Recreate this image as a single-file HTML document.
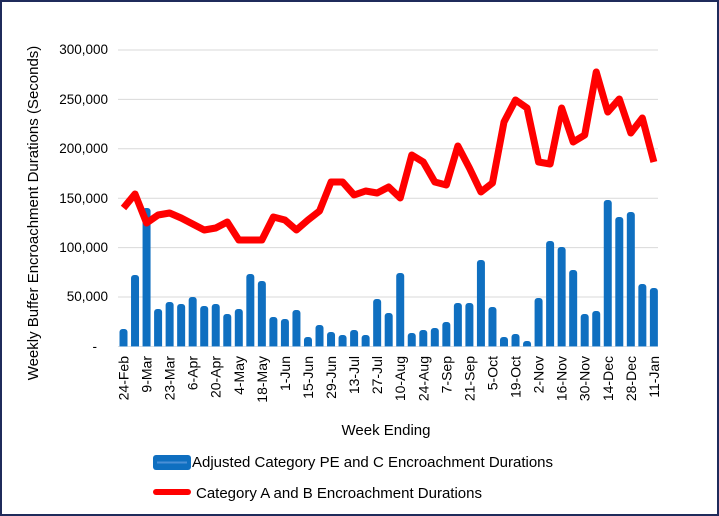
<!DOCTYPE html>
<html><head><meta charset="utf-8"><style>
html,body{margin:0;padding:0;background:#fff}
svg{display:block;font-family:"Liberation Sans",Arial,sans-serif}
</style></head><body>
<svg width="719" height="516" viewBox="0 0 719 516" xmlns="http://www.w3.org/2000/svg">
<rect x="1" y="1" width="717" height="514" fill="#fff" stroke="#1f2b5b" stroke-width="2"/>
<g stroke="#d9d9d9" stroke-width="1">
<line x1="118" x2="658" y1="50" y2="50"/><line x1="118" x2="658" y1="99.4" y2="99.4"/>
<line x1="118" x2="658" y1="148.8" y2="148.8"/><line x1="118" x2="658" y1="198.2" y2="198.2"/>
<line x1="118" x2="658" y1="247.6" y2="247.6"/><line x1="118" x2="658" y1="297" y2="297"/>
</g>
<line x1="118" x2="658" y1="346.5" y2="346.5" stroke="#bfbfbf"/>
<g font-size="13.5" fill="#000" text-anchor="end">
<text x="108" y="54">300,000</text><text x="108" y="104">250,000</text><text x="108" y="153">200,000</text>
<text x="108" y="203">150,000</text><text x="108" y="252">100,000</text><text x="108" y="301">50,000</text>
<text x="97" y="351">-</text>
</g>
<g id="bars" fill="#0f6fc0"></g>
<polyline id="line" fill="none" stroke="#ff0000" stroke-width="7" stroke-linejoin="round" stroke-linecap="butt"/>
<g id="xl" font-size="14" fill="#000"></g>
<text x="386" y="435" font-size="15" text-anchor="middle">Week Ending</text>
<text transform="translate(38,213) rotate(-90)" font-size="15" text-anchor="middle">Weekly Buffer Encroachment Durations (Seconds)</text>
<rect x="153" y="455" width="38" height="15" rx="3" fill="#0f6fc0"/>
<line x1="157" x2="187" y1="462.5" y2="462.5" stroke="#4a8fd6" stroke-width="2"/>
<text x="192" y="467" font-size="15">Adjusted Category PE and C Encroachment Durations</text>
<line x1="156" x2="188" y1="492" y2="492" stroke="#ff0000" stroke-width="6" stroke-linecap="round"/>
<text x="196" y="498" font-size="15">Category A and B Encroachment Durations</text>
<script>
var tops=[329,275,208,309,302,304,297,306,304,314,309,274,281,317,319,310,337,325,332,335,330,335,299,313,273,333,330,328,322,303,303,260,307,337,334,341,298,241,247,270,314,311,200,217,212,284,288];
var ly=[208,194,223,215,213,218,224,230,228,222,240,240,240,217,220,230,220,211,182,182,195,191,193,187,198,155,162,182,185,146,168,192,183,122,100,108,162,164,108,142,135,72,112,99,133,118,162];
var labs=["24-Feb","9-Mar","23-Mar","6-Apr","20-Apr","4-May","18-May","1-Jun","15-Jun","29-Jun","13-Jul","27-Jul","10-Aug","24-Aug","7-Sep","21-Sep","5-Oct","19-Oct","2-Nov","16-Nov","30-Nov","14-Dec","28-Dec","11-Jan"];
var ns="http://www.w3.org/2000/svg",b=document.getElementById("bars"),pts=[],xl=document.getElementById("xl");
for(var i=0;i<47;i++){var cx=123.5+11.53*i;
var r=document.createElementNS(ns,"rect");r.setAttribute("x",cx-4);r.setAttribute("width",8);r.setAttribute("y",tops[i]);r.setAttribute("height",346.5-tops[i]+3);r.setAttribute("rx",3);b.appendChild(r);
pts.push(cx+","+ly[i]);}
var c=document.createElementNS(ns,"rect");c.setAttribute("x",115);c.setAttribute("y",346.5);c.setAttribute("width",545);c.setAttribute("height",5);c.setAttribute("fill","#fff");b.appendChild(c);
document.getElementById("line").setAttribute("points",pts.join(" "));
for(var j=0;j<24;j++){var x=123.5+11.53*2*j+5;var t=document.createElementNS(ns,"text");t.setAttribute("transform","translate("+x+",356) rotate(-90)");t.setAttribute("text-anchor","end");t.textContent=labs[j];xl.appendChild(t);}
</script>
</svg>
</body></html>
